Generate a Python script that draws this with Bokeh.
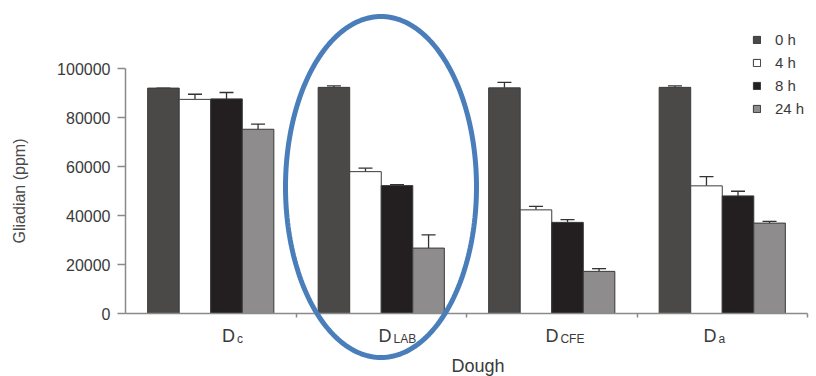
import numpy as np
from bokeh.plotting import figure
from bokeh.models import (Range1d, FixedTicker, BasicTickFormatter, ColumnDataSource,
                          Whisker, TeeHead, Legend, LegendItem, Label, PolyAnnotation)
from bokeh.embed import file_html
from bokeh.resources import INLINE

# ---- data ----
doughs_main = ["D", "D", "D", "D"]
doughs_sub = ["c", "LAB", "CFE", "a"]
hours = ["0 h", "4 h", "8 h", "24 h"]
gliadin_0h = [92000, 92300, 92100, 92300]
gliadin_4h = [87400, 57900, 42300, 52100]
gliadin_8h = [87600, 52200, 37200, 48000]
gliadin_24h = [75200, 26700, 17200, 36900]
err_0h = [0, 600, 2200, 600]
err_4h = [2100, 1400, 1400, 3800]
err_8h = [2600, 400, 1100, 1900]
err_24h = [2100, 5400, 1100, 700]
y_ticks = [0, 20000, 40000, 60000, 80000, 100000]
x_label = "Dough"
y_label = "Gliadian (ppm)"

values = [gliadin_0h, gliadin_4h, gliadin_8h, gliadin_24h]
errors = [err_0h, err_4h, err_8h, err_24h]
colors = ["#4b4948", "#ffffff", "#231f20", "#8e8c8c"]
offsets = [-0.2775, -0.0925, 0.0925, 0.2775]
bar_w = 0.185
FONT = "Liberation Sans"
TXT = "#3a3a3a"
AX = "#8a8a8a"

n = len(doughs_sub)
W, H = 816, 376
# plot area: x axis from px 125 to 807, y axis from px 313 (0) to 68 (100000)
px_per_x = (807 - 125) / n
px_per_y = (313 - 68) / 100000
x_range = Range1d(-125 / px_per_x, n + (W - 807) / px_per_x)
y_range = Range1d(-(H - 313) / px_per_y, 313 / px_per_y)

p = figure(width=W, height=H, x_range=x_range, y_range=y_range,
           output_backend="svg", toolbar_location=None, min_border=0)
p.outline_line_color = None
p.xgrid.visible = False
p.ygrid.visible = False

centers = [i + 0.5 for i in range(n)]
items = []
for k in range(4):
    xs = [c + offsets[k] for c in centers]
    src = ColumnDataSource(dict(x=xs, top=values[k],
                                upper=[v + e for v, e in zip(values[k], errors[k])]))
    r = p.vbar(x="x", top="top", width=bar_w, source=src,
               fill_color=colors[k], line_color="#3a3a3a", line_width=1)
    items.append(LegendItem(label=hours[k], renderers=[r]))
    w = Whisker(base="x", lower="top", upper="upper", source=src, dimension="height",
                line_color="#333333", line_width=1.3, lower_head=None,
                upper_head=TeeHead(size=14, line_color="#333333", line_width=1.3))
    p.add_layout(w)

# y axis
ya = p.yaxis[0]
ya.fixed_location = 0
ya.bounds = (0, 100000)
ya.ticker = FixedTicker(ticks=y_ticks)
ya.formatter = BasicTickFormatter(use_scientific=False)
ya.axis_line_color = AX
ya.axis_line_width = 1.5
ya.major_tick_line_color = AX
ya.major_tick_line_width = 1.5
ya.major_tick_out = 8
ya.major_tick_in = 0
ya.minor_tick_line_color = None
ya.major_label_standoff = 7
ya.major_label_text_font = FONT
ya.major_label_text_font_size = "16px"
ya.major_label_text_color = TXT
ya.axis_label = y_label
ya.axis_label_text_font = FONT
ya.axis_label_text_font_size = "16px"
ya.axis_label_text_font_style = "normal"
ya.axis_label_text_color = "#4a4a4a"
ya.axis_label_standoff = 26

# x axis
xa = p.xaxis[0]
xa.fixed_location = 0
xa.bounds = (0, n)
xa.ticker = FixedTicker(ticks=[1, 2, 3, 4])
xa.major_label_overrides = {1: "", 2: "", 3: "", 4: ""}
xa.axis_line_color = AX
xa.axis_line_width = 1.5
xa.major_tick_line_color = AX
xa.major_tick_line_width = 1.5
xa.major_tick_out = 4
xa.major_tick_in = 0
xa.minor_tick_line_color = None
xa.major_label_standoff = 0

# x axis title, placed as in the reference (slightly right of centre)
p.add_layout(Label(x=(477.5 - 125) / px_per_x, y=-52 / px_per_y, text=x_label,
                   text_font=FONT, text_font_size="18px", text_color=TXT,
                   text_align="center", text_baseline="alphabetic"))

# category labels with subscripts
label_shift = [0.066, -0.016, -0.037, -0.11]
for i in range(n):
    xl = centers[i] + label_shift[i]
    p.add_layout(Label(x=xl, y=-22 / px_per_y, text=doughs_main[i], text_font=FONT,
                       text_font_size="18px", text_color=TXT, text_baseline="alphabetic"))
    p.add_layout(Label(x=xl, y=-25 / px_per_y, x_offset=15, text=doughs_sub[i], text_font=FONT,
                       text_font_size="12px", text_color=TXT, text_baseline="alphabetic"))

# legend (location measured from bottom-left of plot area)
leg = Legend(items=items, location=(752, H - 118), orientation="vertical",
             glyph_width=9, glyph_height=9, label_height=19, spacing=4,
             label_standoff=14, padding=0, margin=0,
             border_line_color=None, background_fill_color=None,
             label_text_font=FONT, label_text_font_size="15px", label_text_color=TXT)
p.add_layout(leg)

# highlight ellipse around the D_LAB group
cx, cy = (380.5 - 125) / px_per_x, (313 - 186.5) / px_per_y
ax_, by_ = 95.5 / px_per_x, 170.5 / px_per_y
t = np.linspace(0, 2 * np.pi, 241)
p.add_layout(PolyAnnotation(xs=list(cx + ax_ * np.cos(t)), ys=list(cy + by_ * np.sin(t)),
                            xs_units="data", ys_units="data",
                            fill_color=None, line_color="#4a7ebb", line_alpha=1.0,
                            line_width=5, level="overlay"))

open("out.html", "w").write(file_html(p, INLINE))
